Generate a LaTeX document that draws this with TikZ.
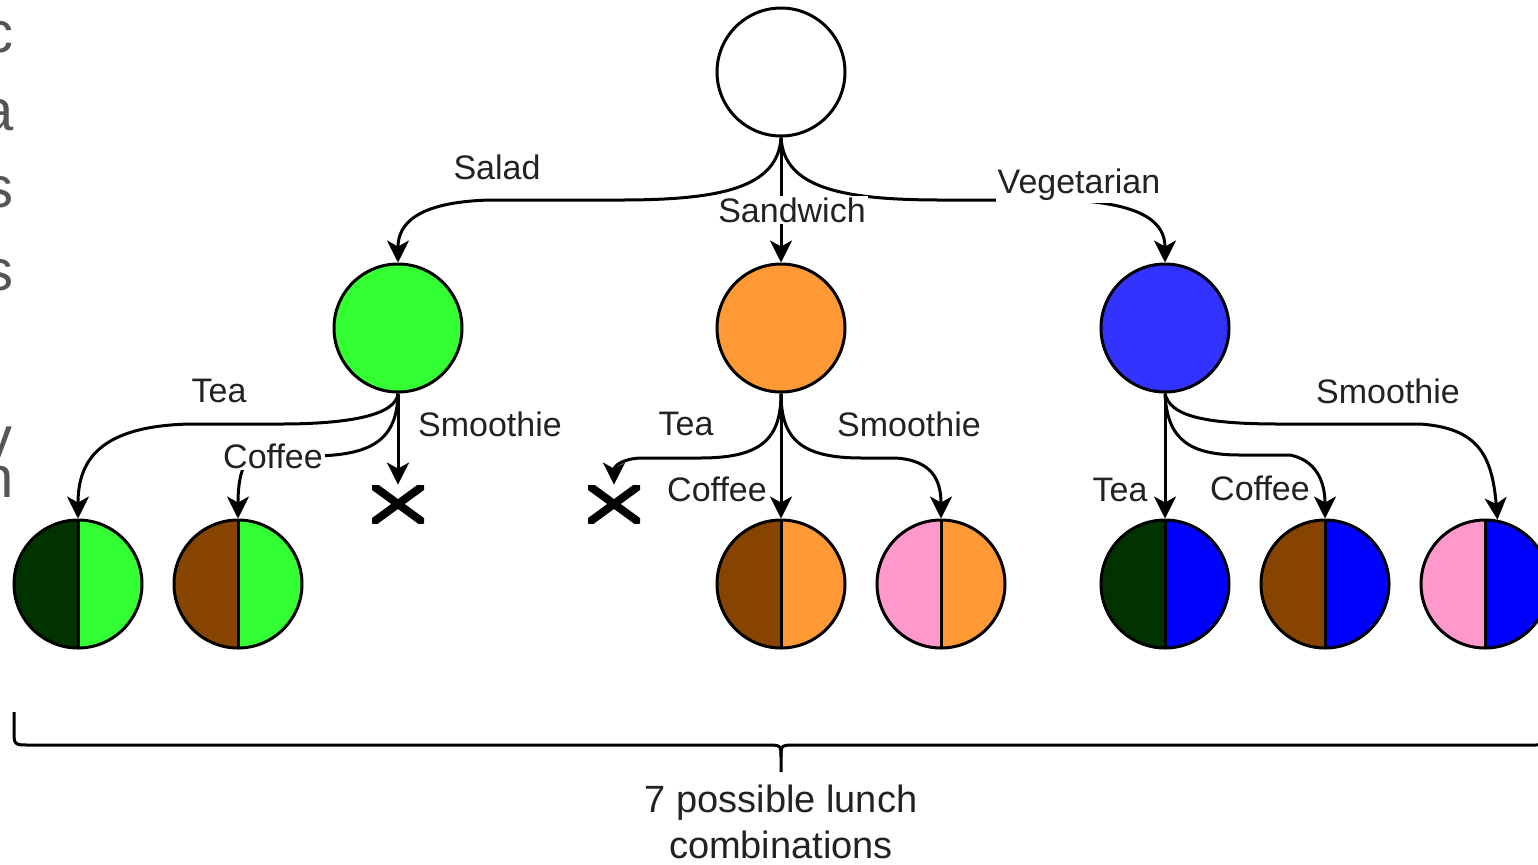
\documentclass[tikz,border=0pt]{standalone}
\usepackage{fontspec}
\setmainfont{Liberation Sans}
\usetikzlibrary{arrows.meta}
\definecolor{cgreen}{HTML}{33FF33}
\definecolor{corange}{HTML}{FF9933}
\definecolor{cblue}{HTML}{3333FF}
\definecolor{cpblue}{HTML}{0000FF}
\definecolor{cdgreen}{HTML}{003300}
\definecolor{cbrown}{HTML}{874400}
\definecolor{cpink}{HTML}{FF99CC}
\definecolor{ctext}{HTML}{222222}
\definecolor{cfrag}{HTML}{555555}
\begin{document}
\begin{tikzpicture}[x=0.5pt,y=-0.5pt,
  lbl/.style={font=\fontsize{17}{20}\selectfont, text=ctext, inner sep=1pt},
  wlbl/.style={lbl, fill=white},
  frag/.style={font=\fontsize{29}{34}\selectfont, text=cfrag, inner sep=0pt, anchor=base east},
  circ/.style={circle, draw=black, line width=1.5pt, minimum size=64pt, inner sep=0pt},
  leaf/.style 2 args={circ, path picture={
      \fill[#1] (path picture bounding box.south west) rectangle (path picture bounding box.north);
      \fill[#2] (path picture bounding box.south) rectangle (path picture bounding box.north east);
      \draw[line width=1.5pt] (path picture bounding box.south) -- (path picture bounding box.north);}},
  xmark/.style={minimum width=26pt, minimum height=19pt, inner sep=0pt, path picture={
      \draw[line width=4pt] (path picture bounding box.south west) -- (path picture bounding box.north east);
      \draw[line width=4pt] (path picture bounding box.north west) -- (path picture bounding box.south east);}},
  conn/.style={line width=1.5pt, draw=black, -{Stealth[length=11pt,width=11pt,inset=3pt]}},
  bracket/.style={line width=1.5pt, draw=black}
]
\useasboundingbox (0,0) rectangle (1538,864);
\clip (0,0) rectangle (1538,864);

% clipped text fragments at the left edge
\node[frag] (f1) at (14,52) {c};
\node[frag] (f2) at (14,130) {a};
\node[frag] (f3) at (14,207) {os};
\node[frag] (f4) at (14,290) {s};
\node[frag] (f5) at (13,457) {v};
\node[frag] (f6) at (14,497) {n};

% nodes
\node[circ, fill=white] (root) at (781,72) {};
\node[circ, fill=cgreen] (sal) at (398,328) {};
\node[circ, fill=corange] (san) at (781,328) {};
\node[circ, fill=cblue] (veg) at (1165,328) {};

\node[leaf={cdgreen}{cgreen}] (l1) at (78,584) {};
\node[leaf={cbrown}{cgreen}] (l2) at (238,584) {};
\node[leaf={cbrown}{corange}] (l3) at (781,584) {};
\node[leaf={cpink}{corange}] (l4) at (941,584) {};
\node[leaf={cdgreen}{cpblue}] (l5) at (1165,584) {};
\node[leaf={cbrown}{cpblue}] (l6) at (1325,584) {};
\node[leaf={cpink}{cpblue}] (l7) at (1485,584) {};

\node[xmark] (x1) at (398,504) {};
\node[xmark] (x2) at (614,504) {};

% level 1 connectors
\draw[conn] (root.south) .. controls (778,188) and (720,200) .. (620,200) -- (490,200) .. controls (415,202) and (398,225) .. (sal.north);
\draw[conn] (root.south) -- (san.north);
\draw[conn] (root.south) .. controls (784,188) and (842,200) .. (942,200) -- (1070,200) .. controls (1148,204) and (1165,225) .. (veg.north);

% salad children
\draw[conn] (sal.south) .. controls (396,415) and (350,424) .. (280,424) -- (190,424) .. controls (100,426) and (78,460) .. (l1.north);
\draw[conn] (sal.south) .. controls (397,440) and (372,456) .. (310,456) -- (255,456) .. controls (242,460) and (238,480) .. (l2.north);
\draw[conn] (sal.south) -- (x1.north);

% sandwich children
\draw[conn] (san.south) .. controls (781,440) and (760,458) .. (700,458) -- (640,458) .. controls (622,459) and (614,466) .. (x2.north);
\draw[conn] (san.south) -- (l3.north);
\draw[conn] (san.south) .. controls (781,440) and (802,458) .. (862,458) -- (895,458) .. controls (932,460) and (941,480) .. (l4.north);

% vegetarian children
\draw[conn] (veg.south) -- (l5.north);
\draw[conn] (veg.south) .. controls (1167,440) and (1190,455) .. (1240,455) -- (1290,455) .. controls (1315,460) and (1325,480) .. (l6.north);
\draw[conn] (veg.south) .. controls (1170,415) and (1200,424) .. (1280,424) -- (1420,424) .. controls (1478,428) and (1492,455) .. (l7.79);

% labels
\node[lbl] (tsal) at (497,167) {Salad};
\node[wlbl] (tsan) at (792,210) {Sandwich};
\node[wlbl] (tveg) at (1079,185) {Vegetarian};
\node[lbl] (tst1) at (219,391) {Tea};
\node[wlbl] (tsc1) at (273,456) {Coffee};
\node[lbl] (tss1) at (490,424) {Smoothie};
\node[lbl] (tst2) at (686,424) {Tea};
\node[lbl] (tsc2) at (717,489) {Coffee};
\node[lbl] (tss2) at (909,424) {Smoothie};
\node[lbl] (tst3) at (1120,490) {Tea};
\node[wlbl] (tsc3) at (1260,488) {Coffee};
\node[lbl] (tss3) at (1388,391) {Smoothie};

% bracket
\draw[bracket] (14,712) -- (14,730) .. controls (14,745) .. (30,745) -- (765,745) .. controls (781,745) .. (781,757) -- (781,772);
\draw[bracket] (781,757) .. controls (781,745) .. (797,745) -- (1532,745) .. controls (1548,745) .. (1548,730);
\node[lbl, align=center, font=\fontsize{19}{23}\selectfont] (sum) at (781,822) {7 possible lunch\\combinations};
\end{tikzpicture}
\end{document}
